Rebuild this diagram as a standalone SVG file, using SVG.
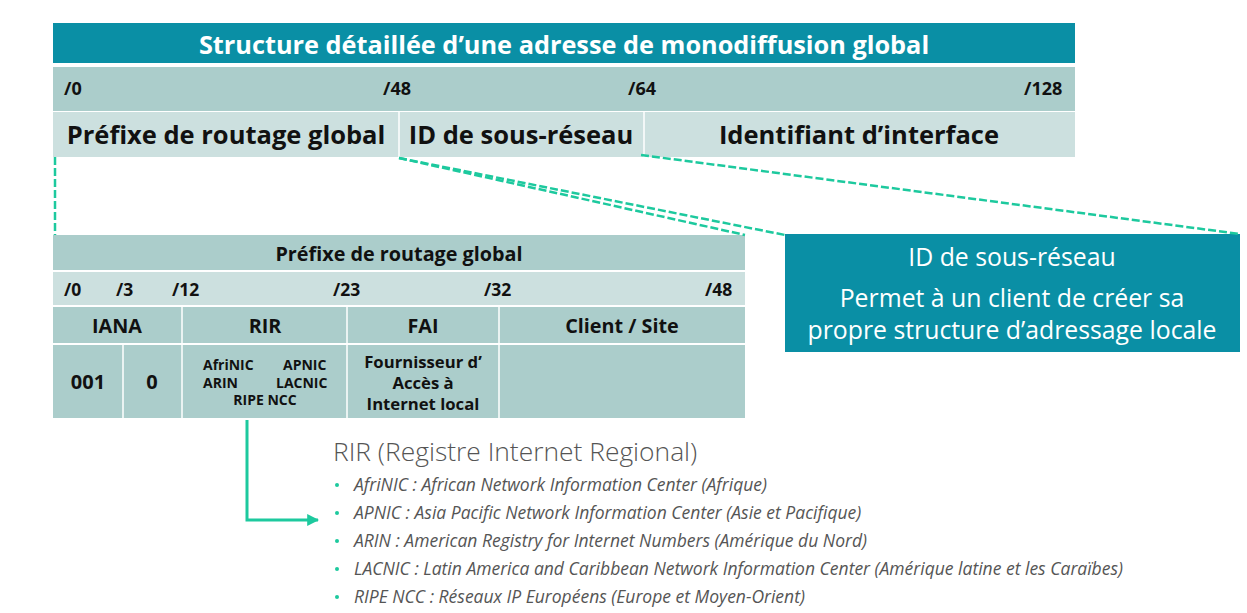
<svg xmlns="http://www.w3.org/2000/svg" width="1247" height="613" viewBox="0 0 1247 613">
<style>
.t{font-family:"Open Sans","Noto Sans","Liberation Sans",sans-serif}
.b{font-weight:700;fill:#111}
.w{fill:#fff}
.teal{fill:#0A8FA5}
.mid{fill:#ABCDCB}
.lt{fill:#CCE0DF}
.sep{stroke:#fff;stroke-width:1.5}
.dash{stroke:#1DC99E;stroke-width:2.5;stroke-dasharray:8 3;fill:none}
.li{font-family:"Open Sans","Noto Sans",sans-serif;font-style:italic;font-size:17.5px;fill:#555}
.bul{fill:#1DC99E}
</style>
<defs>
<marker id="ah" viewBox="0 0 10 10" refX="9" refY="5" markerWidth="4" markerHeight="4" orient="auto"><path d="M0,0L10,5L0,10z" fill="#1DC99E"/></marker>
</defs>
<g id="main-table">
<rect class="teal" x="53" y="23" width="1022" height="40"/>
<text class="t w" x="564" y="54" font-size="25.3" font-weight="700" text-anchor="middle">Structure détaillée d’une adresse de monodiffusion global</text>
<rect class="mid" x="53" y="67" width="1022" height="44"/>
<text class="t b" font-size="18"><tspan x="64" y="95">/0</tspan><tspan x="383" y="95">/48</tspan><tspan x="628" y="95">/64</tspan><tspan x="1024" y="95">/128</tspan></text>
<rect class="lt" x="53" y="112" width="1022" height="45"/>
<line class="sep" x1="399" y1="112" x2="399" y2="157"/>
<line class="sep" x1="644" y1="112" x2="644" y2="157"/>
<text class="t b" font-size="25.5"><tspan x="226" y="144" text-anchor="middle">Préfixe de routage global</tspan><tspan x="521" y="144" text-anchor="middle">ID de sous-réseau</tspan><tspan x="859" y="144" text-anchor="middle">Identifiant d’interface</tspan></text>
</g>
<g id="sub-table">
<rect class="mid" x="53" y="235" width="692" height="35"/>
<text class="t b" x="399" y="261" font-size="19.8" text-anchor="middle">Préfixe de routage global</text>
<rect class="lt" x="53" y="272" width="692" height="33"/>
<text class="t b" font-size="17.5"><tspan x="64" y="296">/0</tspan><tspan x="116" y="296">/3</tspan><tspan x="172" y="296">/12</tspan><tspan x="333" y="296">/23</tspan><tspan x="484" y="296">/32</tspan><tspan x="705" y="296">/48</tspan></text>
<rect class="mid" x="53" y="307" width="692" height="36"/>
<rect class="mid" x="53" y="345" width="692" height="73"/>
<line class="sep" x1="182" y1="307" x2="182" y2="418"/>
<line class="sep" x1="347" y1="307" x2="347" y2="418"/>
<line class="sep" x1="499" y1="307" x2="499" y2="418"/>
<line class="sep" x1="123" y1="345" x2="123" y2="418"/>
<text class="t b" font-size="19.8" text-anchor="middle"><tspan x="117" y="333">IANA</tspan><tspan x="265" y="333">RIR</tspan><tspan x="423" y="333">FAI</tspan><tspan x="622" y="333">Client / Site</tspan></text>
<text class="t b" font-size="20" text-anchor="middle"><tspan x="88" y="389">001</tspan><tspan x="152" y="389">0</tspan></text>
<text class="t b" font-size="14"><tspan x="203" y="370">AfriNIC</tspan><tspan x="283" y="370">APNIC</tspan><tspan x="203" y="388">ARIN</tspan><tspan x="276" y="388">LACNIC</tspan><tspan x="265" y="405" text-anchor="middle">RIPE NCC</tspan></text>
<text class="t b" font-size="16.7" text-anchor="middle"><tspan x="423" y="368">Fournisseur d’</tspan><tspan x="423" y="389">Accès à</tspan><tspan x="423" y="410">Internet local</tspan></text>
</g>
<g id="callout">
<rect class="teal" x="785" y="234" width="455" height="118"/>
<text class="t w" font-size="24.8" text-anchor="middle"><tspan x="1012" y="266">ID de sous-réseau</tspan><tspan x="1012" y="307">Permet à un client de créer sa</tspan><tspan x="1012" y="339">propre structure d’adressage locale</tspan></text>
</g>
<g id="rir-list">
<text class="t" x="333" y="461" font-size="26.4" font-weight="300" fill="#555">RIR (Registre Internet Regional)</text>
<circle class="bul" cx="337" cy="485" r="2"/>
<circle class="bul" cx="337" cy="513" r="2"/>
<circle class="bul" cx="337" cy="541" r="2"/>
<circle class="bul" cx="337" cy="569" r="2"/>
<circle class="bul" cx="337" cy="597" r="2"/>
<text class="li"><tspan x="354" y="491">AfriNIC : African Network Information Center (Afrique)</tspan><tspan x="354" y="519">APNIC : Asia Pacific Network Information Center (Asie et Pacifique)</tspan><tspan x="354" y="547">ARIN : American Registry for Internet Numbers (Amérique du Nord)</tspan><tspan x="354" y="575">LACNIC : Latin America and Caribbean Network Information Center (Amérique latine et les Caraïbes)</tspan><tspan x="354" y="603">RIPE NCC : Réseaux IP Européens (Europe et Moyen-Orient)</tspan></text>
</g>
<g id="connectors">
<line class="dash" x1="55" y1="157" x2="55" y2="235" stroke-width="3.5"/>
<line class="dash" x1="399" y1="158" x2="745" y2="235"/>
<line class="dash" x1="399" y1="158" x2="785" y2="235"/>
<line class="dash" x1="641" y1="155" x2="1240" y2="234"/>
<polyline points="247,420 247,520 318,520" fill="none" stroke="#1DC99E" stroke-width="3" marker-end="url(#ah)"/>
</g>
</svg>
